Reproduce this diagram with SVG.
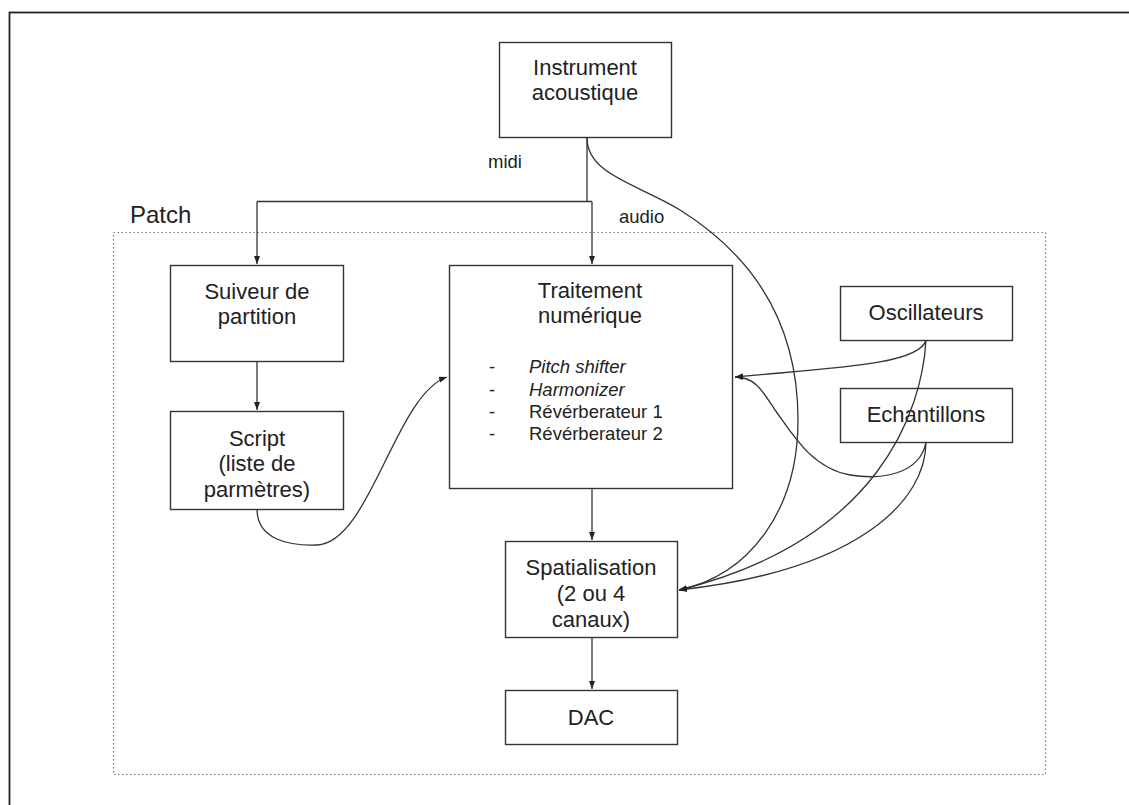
<svg xmlns="http://www.w3.org/2000/svg" width="1129" height="805" viewBox="0 0 1129 805">
<style>
.box{fill:#fff;stroke:#333;stroke-width:1.4}
.t{font-family:"Liberation Sans",Arial,sans-serif;font-size:22px;fill:#222;text-anchor:middle}
.s{font-family:"Liberation Sans",Arial,sans-serif;font-size:18.5px;fill:#222}
.c{fill:none;stroke:#333;stroke-width:1.3}
</style>
<defs>
<marker id="ah" markerUnits="userSpaceOnUse" markerWidth="9" markerHeight="7" refX="8" refY="3" orient="auto">
<path d="M0,0 L8,3 L0,6 z" fill="#222"/>
</marker>
</defs>
<rect x="0" y="0" width="1129" height="805" fill="#fff"/>
<rect x="9.5" y="12.5" width="1130" height="800" fill="none" stroke="#222" stroke-width="1.8"/>
<g id="patch">
<rect x="113.5" y="232.5" width="932" height="542" fill="none" stroke="#777" stroke-width="1.2" stroke-dasharray="1.5 2.5"/>
<text x="130" y="223" font-family="'Liberation Sans',Arial,sans-serif" font-size="24" fill="#222">Patch</text>
</g>
<g id="instrument">
<rect class="box" x="499.5" y="42.5" width="172" height="95"/>
<text class="t" x="585" y="75">Instrument</text>
<text class="t" x="585" y="100">acoustique</text>
</g>
<g id="suiveur">
<rect class="box" x="170.5" y="265.5" width="173" height="96"/>
<text class="t" x="257" y="299">Suiveur de</text>
<text class="t" x="257" y="324">partition</text>
</g>
<g id="script">
<rect class="box" x="170.5" y="411.5" width="173" height="98"/>
<text class="t" x="257" y="446">Script</text>
<text class="t" x="257" y="471">(liste de</text>
<text class="t" x="257" y="497">parmètres)</text>
</g>
<g id="traitement">
<rect class="box" x="449.5" y="265.5" width="283" height="223"/>
<text class="t" x="590" y="298">Traitement</text>
<text class="t" x="590" y="323">numérique</text>
<text class="s" x="489" y="373">-</text>
<text class="s" x="489" y="396">-</text>
<text class="s" x="489" y="418">-</text>
<text class="s" x="489" y="440">-</text>
<text class="s" x="529" y="373" font-style="italic">Pitch shifter</text>
<text class="s" x="529" y="396" font-style="italic">Harmonizer</text>
<text class="s" x="529" y="418">Révérberateur 1</text>
<text class="s" x="529" y="440">Révérberateur 2</text>
</g>
<g id="oscillateurs">
<rect class="box" x="840.5" y="286.5" width="172" height="54"/>
<text class="t" x="926" y="320">Oscillateurs</text>
</g>
<g id="echantillons">
<rect class="box" x="840.5" y="388.5" width="172" height="54"/>
<text class="t" x="926" y="422">Echantillons</text>
</g>
<g id="spatialisation">
<rect class="box" x="505.5" y="541.5" width="172" height="96"/>
<text class="t" x="591" y="575">Spatialisation</text>
<text class="t" x="591" y="601">(2 ou 4</text>
<text class="t" x="591" y="627">canaux)</text>
</g>
<g id="dac">
<rect class="box" x="505.5" y="690.5" width="172" height="54"/>
<text class="t" x="591" y="725">DAC</text>
</g>
<g id="connectors">
<path class="c" d="M587,138 V201.5 M257,201.5 H592"/>
<path class="c" d="M257,201.5 V264" marker-end="url(#ah)"/>
<path class="c" d="M592,201.5 V264" marker-end="url(#ah)"/>
<path class="c" d="M257,361 V410" marker-end="url(#ah)"/>
<path class="c" d="M592,488 V540" marker-end="url(#ah)"/>
<path class="c" d="M592,637 V689" marker-end="url(#ah)"/>
<path class="c" d="M257,509 C257,540 290,546 317,545 C370,543 395,395 447,377" marker-end="url(#ah)"/>
<path class="c" d="M587,138 C587,175 640,185 680,210 C760,260 798,330 798,420 C798,510 750,575 679,590" marker-end="url(#ah)"/>
<path class="c" d="M926,340 C920,365 830,368 735,377" marker-end="url(#ah)"/>
<path class="c" d="M926,340 C922,410 880,540 679,590" marker-end="url(#ah)"/>
<path class="c" d="M926,442 C920,475 880,480 850,475 C810,468 790,430 775,410 C762,390 755,377 735,377" marker-end="url(#ah)"/>
<path class="c" d="M926,442 C926,500 860,570 679,590" marker-end="url(#ah)"/>
<text class="s" x="488" y="168">midi</text>
<text class="s" x="619" y="223">audio</text>
</g>
</svg>
